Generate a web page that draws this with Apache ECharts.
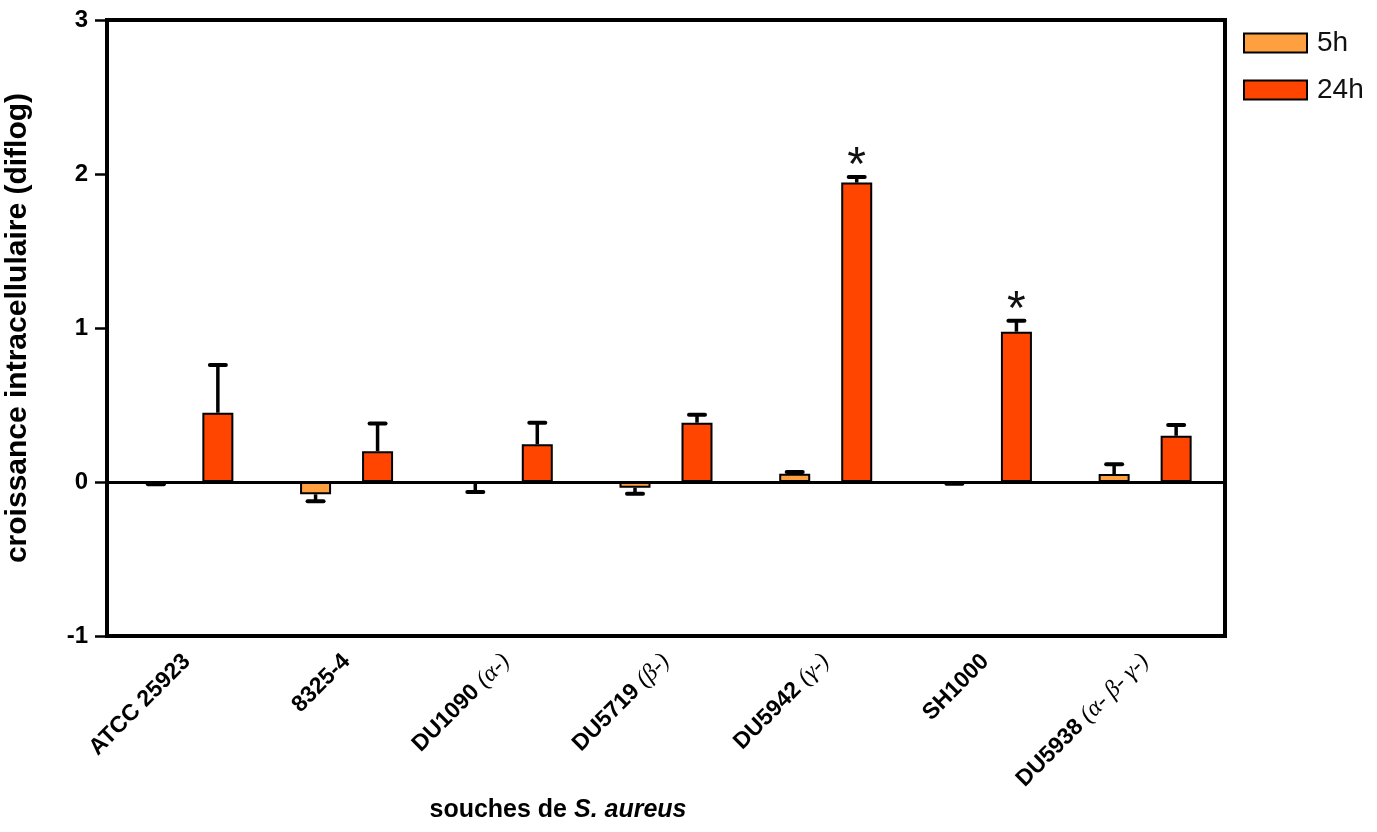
<!DOCTYPE html>
<html>
<head>
<meta charset="utf-8">
<script src="https://cdn.jsdelivr.net/npm/echarts@6/dist/echarts.min.js"></script>
<style>
html,body{margin:0;padding:0;background:#fff;}
#chart{width:1377px;height:832px;}
</style>
</head>
<body>
<div id="chart"></div>
<script>
const categories = ['ATCC 25923', '8325-4', 'DU1090 (α-)', 'DU5719 (β-)', 'DU5942 (γ-)', 'SH1000', 'DU5938 (α- β- γ-)'];
const seriesNames = ['5h', '24h'];
const values5h = [-0.008, -0.08, -0.01, -0.037, 0.054, -0.006, 0.052];
const errors5h = [0.006, 0.045, 0.055, 0.04, 0.011, 0.005, 0.063];
const values24h = [0.45, 0.20, 0.245, 0.385, 1.944, 0.976, 0.30];
const errors24h = [0.31, 0.18, 0.14, 0.052, 0.036, 0.071, 0.07];
const significance24h = ['', '', '', '', '*', '*', ''];
const yTickValues = [-1, 0, 1, 2, 3];
const yAxisTitle = 'croissance intracellulaire (diflog)';
const xAxisTitleParts = ['souches de ', 'S. aureus'];

const FONT = '"Liberation Sans", Arial, Helvetica, sans-serif';
const BAR_W = 31;
const OFFSET = 31;

const chart = echarts.init(document.getElementById('chart'), null, {renderer: 'canvas'});

function errRender(offset, sig) {
  return function (params, api) {
    const i = api.value(0), v = api.value(1), e = api.value(2);
    const dir = v < 0 ? -1 : 1;
    const base = api.coord([i, v]);
    const end = api.coord([i, v + dir * e]);
    const x = base[0] + offset;
    const children = [
      {type: 'line', shape: {x1: x, y1: base[1], x2: x, y2: end[1]}, style: {stroke: '#000', lineWidth: 3.5}},
      {type: 'line', shape: {x1: x - 8, y1: end[1], x2: x + 8, y2: end[1]}, style: {stroke: '#000', lineWidth: 4, lineCap: 'round'}}
    ];
    if (sig && sig[i]) {
      children.push({type: 'text', x: x, y: end[1] - 10,
        style: {text: sig[i], fontFamily: FONT, fontSize: 48, fill: '#111', align: 'center', verticalAlign: 'middle'}});
    }
    return {type: 'group', children: children};
  };
}

function labelFormatter(val) {
  const k = val.indexOf(' (');
  if (k < 0) return '{b|' + val + '}';
  return '{b|' + val.slice(0, k + 1) + '}{g|' + val.slice(k + 1) + '}';
}

const option = {
  animation: false,
  backgroundColor: '#fff',
  grid: {left: 107, right: 152, top: 20, bottom: 196, outerBoundsMode: 'none', containLabel: false,
    show: true, borderColor: '#000', borderWidth: 4, backgroundColor: 'transparent'},
  legend: {
    data: seriesNames,
    left: 1243, top: 29, orient: 'vertical', padding: 0,
    itemWidth: 63, itemHeight: 19, itemGap: 19,
    icon: 'rect',
    textStyle: {fontFamily: FONT, fontSize: 28, color: '#111', lineHeight: 28, padding: [0, 0, 0, 5]}
  },
  xAxis: {
    type: 'category',
    data: categories,
    axisLine: {onZero: false, lineStyle: {color: '#000', width: 4}},
    axisTick: {show: false},
    splitLine: {show: false},
    axisLabel: {
      rotate: 45, margin: 22, interval: 0,
      formatter: labelFormatter,
      rich: {
        b: {fontFamily: FONT, fontWeight: 'bold', fontSize: 23, color: '#000'},
        g: {fontFamily: '"Liberation Serif", serif', fontStyle: 'italic', fontWeight: 'normal', fontSize: 24, color: '#000'}
      }
    }
  },
  yAxis: {
    type: 'value',
    min: yTickValues[0], max: yTickValues[yTickValues.length - 1], interval: 1,
    name: yAxisTitle,
    nameLocation: 'middle', nameGap: 74, nameRotate: 90,
    nameTextStyle: {fontFamily: FONT, fontWeight: 'bold', fontSize: 30, color: '#000'},
    axisLine: {show: true, lineStyle: {color: '#000', width: 4}},
    axisTick: {show: true, length: 12, lineStyle: {color: '#000', width: 2.5}},
    splitLine: {show: false},
    axisLabel: {fontFamily: FONT, fontWeight: 'bold', fontSize: 24, color: '#000', margin: 19}
  },
  series: [
    {
      name: seriesNames[0], type: 'bar', data: values5h, barWidth: BAR_W, barGap: '100%',
      itemStyle: {color: '#FFA040', borderColor: '#000', borderWidth: 2}, z: 2
    },
    {
      name: seriesNames[1], type: 'bar', data: values24h, barWidth: BAR_W, barGap: '100%',
      itemStyle: {color: '#FF4500', borderColor: '#000', borderWidth: 2}, z: 2,
      markLine: {silent: true, symbol: 'none', label: {show: false}, animation: false,
        lineStyle: {color: '#000', width: 3, type: 'solid'}, data: [{yAxis: 0}]}
    },
    {
      type: 'custom', renderItem: errRender(-OFFSET, null), z: 5, silent: true,
      data: values5h.map((v, i) => [i, v, errors5h[i]]), encode: {x: 0, y: 1}
    },
    {
      type: 'custom', renderItem: errRender(OFFSET, significance24h), z: 5, silent: true,
      data: values24h.map((v, i) => [i, v, errors24h[i]]), encode: {x: 0, y: 1}
    }
  ],
  graphic: [{
    type: 'text', x: 558, y: 810,
    style: {
      text: '{n|' + xAxisTitleParts[0] + '}{i|' + xAxisTitleParts[1] + '}',
      align: 'center', verticalAlign: 'middle',
      rich: {
        n: {fontFamily: FONT, fontWeight: 'bold', fontSize: 25, fill: '#000'},
        i: {fontFamily: FONT, fontWeight: 'bold', fontStyle: 'italic', fontSize: 25, fill: '#000'}
      }
    }
  }]
};
chart.setOption(option);
</script>
</body>
</html>
